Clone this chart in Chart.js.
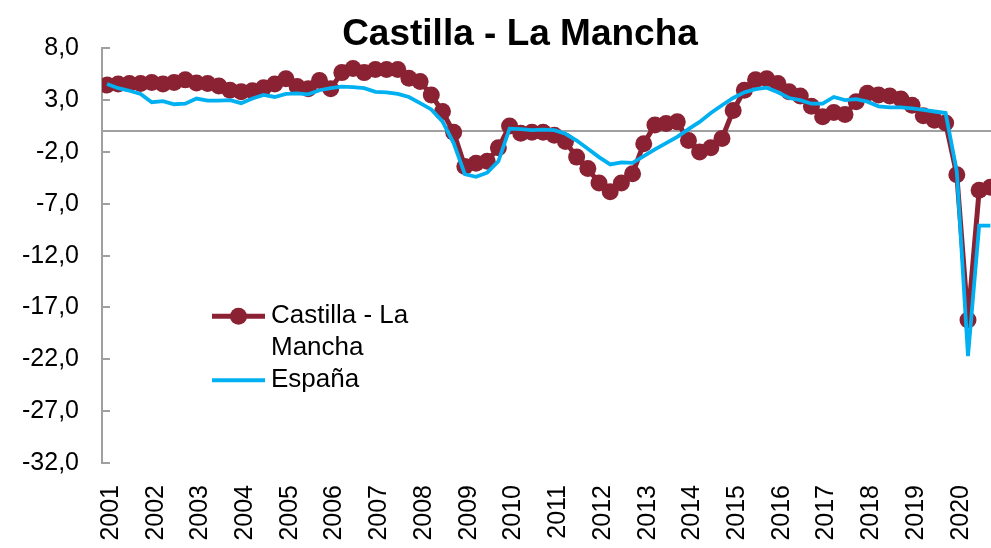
<!DOCTYPE html>
<html>
<head>
<meta charset="utf-8">
<script src="https://cdn.jsdelivr.net/npm/chart.js@4/dist/chart.umd.min.js"></script>
<style>
html,body{margin:0;padding:0;overflow:hidden;background:#ffffff;}
#wrap{width:1050px;height:548px;position:relative;}
</style>
</head>
<body>
<div id="wrap"><canvas id="c" width="1050" height="548"></canvas></div>
<script>
// ---- data ----
const years = ['2001','2002','2003','2004','2005','2006','2007','2008','2009','2010',
               '2011','2012','2013','2014','2015','2016','2017','2018','2019','2020'];
const quartersPerYear = 4;
const seriesNames = ['Castilla - La Mancha', 'España'];
const legendLines = [['Castilla - La', 'Mancha'], ['España']];
const castilla = [
  4.45, 4.55, 4.6, 4.6,   4.7, 4.55, 4.7, 4.95,   4.65, 4.6, 4.35, 3.95,   3.8, 3.9, 4.2, 4.55,
  5.05, 4.3, 4.1, 4.9,    4.1, 5.65, 6.05, 5.65,  5.95, 5.95, 5.95, 5.1,   4.8, 3.5, 1.9, -0.1,
  -3.4, -3.1, -2.9, -1.6, 0.5, -0.2, -0.1, -0.1,  -0.4, -1.0, -2.5, -3.6,  -5.0, -5.85, -5.0, -4.1,
  -1.2, 0.6, 0.75, 0.9,   -0.9, -2.0, -1.6, -0.7, 2.0, 3.95, 4.95, 5.05,   4.6, 3.8, 3.4, 2.4,
  1.4, 1.8, 1.6, 2.85,    3.65, 3.5, 3.4, 3.1,    2.5, 1.5, 1.05, 0.8,     -4.2, -18.2, -5.7, -5.4
];
const espana = [
  4.55, 4.15, 3.9, 3.6,   2.8, 2.9, 2.6, 2.65,    3.15, 2.95, 2.95, 3.0,   2.7, 3.15, 3.5, 3.3,
  3.6, 3.65, 3.55, 3.95,  4.15, 4.3, 4.25, 4.15,  3.8, 3.75, 3.6, 3.3,     2.7, 2.1, 0.95, -1.15,
  -4.15, -4.4, -4.0, -2.9, 0.25, 0.2, 0.1, 0.15,  0.1, -0.25, -0.9, -1.7,  -2.5, -3.2, -3.0, -3.05,
  -2.4, -1.75, -1.15, -0.55, 0.2, 0.9, 1.75, 2.5, 3.2, 3.75, 4.05, 4.2,    3.75, 3.2, 3.0, 2.65,
  2.65, 3.3, 3.0, 3.1,    2.85, 2.4, 2.3, 2.3,    2.2, 2.05, 1.9, 1.75,    -3.9, -21.7, -9.1, -9.1
];
const yTicks = [8, 3, -2, -7, -12, -17, -22, -27, -32];

// ---- styles ----
const FONT = "'Liberation Sans', Arial, sans-serif";
const RED = '#8a2233';
const BLUE = '#00b0f0';
const GRAY = '#a0a0a0';
const LABEL_SHIFT = 0.35; // year label sits slightly right of the Q1 point

const toPoints = arr => arr.map((v, i) => ({x: i, y: v}));

const axisExtras = {
  id: 'axisExtras',
  beforeDatasetsDraw(chart) {
    const {ctx, chartArea, scales} = chart;
    const ys = scales.y;
    ctx.save();
    ctx.strokeStyle = GRAY;
    ctx.lineWidth = 2;
    const y0 = Math.round(ys.getPixelForValue(0));
    ctx.beginPath();
    ctx.moveTo(chartArea.left, y0);
    ctx.lineTo(chartArea.right, y0);
    ctx.stroke();
    ctx.beginPath();
    ys.ticks.forEach(t => {
      const py = Math.round(ys.getPixelForValue(t.value));
      ctx.moveTo(chartArea.left, py);
      ctx.lineTo(chartArea.left + 8, py);
    });
    ctx.stroke();
    ctx.restore();
  }
};

const sideLegend = {
  id: 'sideLegend',
  afterDraw(chart) {
    const {ctx, chartArea} = chart;
    const x0 = chartArea.left + 110, x1 = x0 + 53, tx = x1 + 6;
    const lh = 32;
    let y = chartArea.top + 268;
    ctx.save();
    ctx.font = '26px ' + FONT;
    ctx.textBaseline = 'middle';
    ctx.textAlign = 'left';
    chart.data.datasets.forEach((ds, i) => {
      ctx.strokeStyle = ds.borderColor;
      ctx.lineWidth = ds.borderWidth;
      ctx.beginPath();
      ctx.moveTo(x0, y);
      ctx.lineTo(x1, y);
      ctx.stroke();
      if (ds.pointRadius > 0) {
        ctx.fillStyle = ds.pointBackgroundColor;
        ctx.beginPath();
        ctx.arc((x0 + x1) / 2, y, ds.pointRadius, 0, Math.PI * 2);
        ctx.fill();
      }
      ctx.fillStyle = '#000';
      legendLines[i].forEach((t, k) => ctx.fillText(t, tx, y + k * lh));
      y += legendLines[i].length * lh;
    });
    ctx.restore();
  }
};

new Chart(document.getElementById('c'), {
  type: 'line',
  data: {
    datasets: [
      {
        label: seriesNames[0],
        data: toPoints(castilla),
        borderColor: RED,
        backgroundColor: RED,
        pointBackgroundColor: RED,
        pointBorderWidth: 0,
        pointRadius: 8.5,
        borderWidth: 5,
        tension: 0,
        order: 1
      },
      {
        label: seriesNames[1],
        data: toPoints(espana),
        borderColor: BLUE,
        backgroundColor: BLUE,
        pointBackgroundColor: BLUE,
        pointRadius: 0,
        borderWidth: 3.8,
        tension: 0,
        order: 0
      }
    ]
  },
  options: {
    responsive: false,
    animation: false,
    devicePixelRatio: 1,
    layout: {padding: {top: 0, right: 10, bottom: 0, left: 0}},
    plugins: {
      legend: {display: false},
      tooltip: {enabled: false},
      title: {
        display: true,
        text: seriesNames[0],
        color: '#000',
        font: {family: FONT, size: 37, weight: 'bold', lineHeight: 0.75},
        padding: {top: 20.5, bottom: 0}
      }
    },
    scales: {
      x: {
        type: 'linear',
        min: -0.45,
        max: 83.44,
        afterBuildTicks: s => { s.ticks = years.map((y, i) => ({value: i * quartersPerYear + LABEL_SHIFT})); },
        afterFit: s => { s.height = 85; },
        grid: {display: false},
        border: {display: false},
        ticks: {
          autoSkip: false,
          minRotation: 90,
          maxRotation: 90,
          padding: 14,
          color: '#000',
          font: {family: FONT, size: 25},
          callback: v => years[Math.round((v - LABEL_SHIFT) / quartersPerYear)]
        }
      },
      y: {
        min: -32,
        max: 8,
        afterBuildTicks: s => { s.ticks = yTicks.map(v => ({value: v})); },
        afterFit: s => { s.width = 102; },
        grid: {display: true, drawOnChartArea: false, drawTicks: false},
        border: {display: true, color: GRAY, width: 2},
        ticks: {
          padding: 23,
          color: '#000',
          font: {family: FONT, size: 25},
          callback: v => v.toFixed(1).replace('.', ',')
        }
      }
    }
  },
  plugins: [axisExtras, sideLegend]
});
</script>
</body>
</html>
